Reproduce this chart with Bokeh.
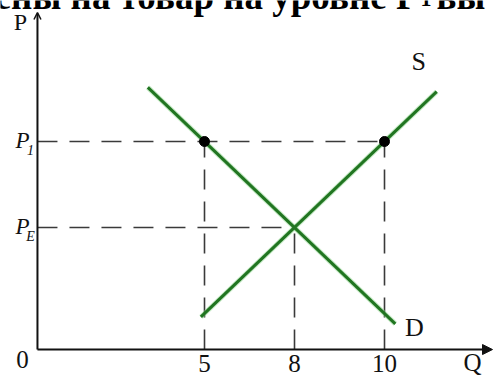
from bokeh.plotting import figure
from bokeh.models import Range1d, Arrow, OpenHead, NormalHead
from bokeh.core.properties import value
from bokeh.embed import file_html
from bokeh.resources import INLINE

# ---- data (schematic units: Q ticks evenly spaced, P levels) ----
q_ticks = [1, 2, 3]
q_labels = ["5", "8", "10"]
p_levels = [2, 1]            # P1, PE
p_subs = ["1", "E"]
demand_q = [0.37, 3.12]
demand_p = [2.63, -0.12]
supply_q = [0.96, 3.58]
supply_p = [-0.04, 2.58]
dot_q = [1, 3]
dot_p = [2, 2]
eq_q, eq_p = 2, 1
axis_q0, axis_p0 = -0.856, -0.419
axis_q_end, axis_p_end = 4.2, 3.5
title_left = "цены на товар на уровне Р"
title_sub = "1"
title_right = "вы"

SERIF = value("Liberation Serif")

p = figure(width=493, height=378, x_range=Range1d(-1.2667, 4.2111),
           y_range=Range1d(-0.7558, 3.6395), output_backend="svg",
           toolbar_location=None, min_border=0,
           x_axis_location=None, y_axis_location=None)
p.grid.visible = False
p.outline_line_color = None
p.background_fill_color = "white"
p.border_fill_color = "white"

# dashed guides
dash = dict(line_color="#3a3a3a", line_width=1.6, line_dash="20 12")
p.segment(x0=[axis_q0] * 2, y0=p_levels, x1=[dot_q[1], eq_q], y1=p_levels, **dash)
p.segment(x0=[dot_q[0], eq_q, dot_q[1]], y0=[axis_p0] * 3,
          x1=[dot_q[0], eq_q, dot_q[1]], y1=[dot_p[0], eq_p, dot_p[1]], **dash)

# axes
p.add_layout(Arrow(end=OpenHead(size=7, line_width=1.5, line_color="#111"),
                   x_start=axis_q0, y_start=axis_p0, x_end=axis_q0, y_end=axis_p_end,
                   line_width=2, line_color="#111"))
p.add_layout(Arrow(end=NormalHead(size=10, fill_color="#111", line_color="#111"),
                   x_start=axis_q0, y_start=axis_p0, x_end=axis_q_end, y_end=axis_p0,
                   line_width=2, line_color="#111"))

# curves
p.line(demand_q, demand_p, line_color="#8fd88f", line_width=5, line_alpha=0.5)
p.line(supply_q, supply_p, line_color="#8fd88f", line_width=5, line_alpha=0.5)
p.line(demand_q, demand_p, line_color="#217521", line_width=3)
p.line(supply_q, supply_p, line_color="#217521", line_width=3)
p.scatter(dot_q, dot_p, size=10, color="black")

# tick labels
p.text(x=q_ticks, y=[axis_p0] * 3, text=q_labels, text_font=SERIF,
       text_font_size="25px", text_align="center", text_baseline="middle",
       y_offset=14, text_color="#111")
p.text(x=[axis_q0], y=[axis_p0], text=["0"], text_font=SERIF, text_font_size="25px",
       text_align="center", text_baseline="middle", x_offset=-15, y_offset=10,
       text_color="#111")
p.text(x=[axis_q_end], y=[axis_p0], text=["Q"], text_font=SERIF, text_font_size="25px",
       text_align="center", text_baseline="middle", x_offset=-20, y_offset=13,
       text_color="#111")
p.text(x=[axis_q0], y=[axis_p_end], text=["P"], text_font=SERIF, text_font_size="24px",
       text_align="center", text_baseline="middle", x_offset=-17, y_offset=10,
       text_color="#111")
p.text(x=[axis_q0] * 2, y=p_levels, text=["P", "P"], text_font=SERIF,
       text_font_size="23px", text_font_style="italic", text_align="center",
       text_baseline="middle", x_offset=-15, y_offset=-1, text_color="#111")
p.text(x=[axis_q0] * 2, y=p_levels, text=p_subs, text_font=SERIF,
       text_font_size="14px", text_font_style="italic", text_align="center",
       text_baseline="middle", x_offset=-7, y_offset=9, text_color="#111")
p.text(x=[supply_q[1]], y=[supply_p[1]], text=["S"], text_font=SERIF,
       text_font_size="26px", text_align="center", text_baseline="middle",
       x_offset=-18, y_offset=-30, text_color="#111")
p.text(x=[demand_q[1]], y=[demand_p[1]], text=["D"], text_font=SERIF,
       text_font_size="26px", text_align="center", text_baseline="middle",
       x_offset=19, y_offset=4, text_color="#111")

# clipped title line at top
p.text(x=[3.378], y=[3.6395], text=[title_left], text_font=SERIF, text_font_size="37px",
       text_font_style="bold", text_align="right", text_baseline="alphabetic",
       y_offset=-4, text_color="black")
p.text(x=[3.378], y=[3.6395], text=[title_sub], text_font=SERIF, text_font_size="22px",
       text_font_style="bold", text_align="left", text_baseline="alphabetic",
       x_offset=2, y_offset=-2, text_color="black")
p.text(x=[3.578], y=[3.6395], text=[title_right], text_font=SERIF, text_font_size="37px",
       text_font_style="bold", text_align="left", text_baseline="alphabetic",
       y_offset=-4, text_color="black")

open("out.html", "w").write(file_html(p, INLINE))
